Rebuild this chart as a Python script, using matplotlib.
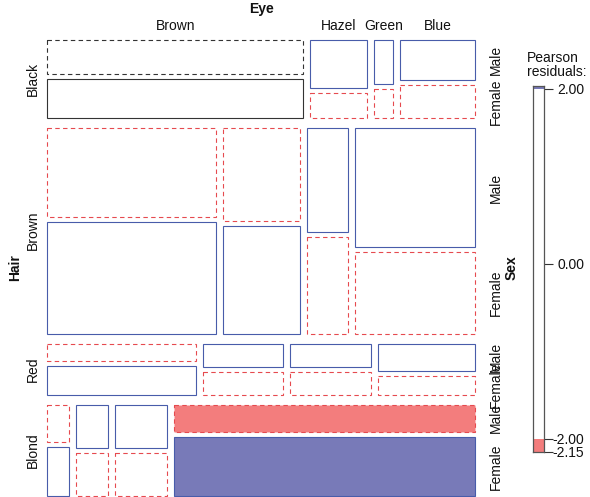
import matplotlib
matplotlib.use("Agg")
import matplotlib.pyplot as plt
from matplotlib.patches import Rectangle
import numpy as np

plt.rcParams["font.family"] = ["Liberation Sans", "DejaVu Sans"]

# Hair x Eye x Sex counts
hair_levels = ["Black", "Brown", "Red", "Blond"]
eye_levels = ["Brown", "Hazel", "Green", "Blue"]
sex_levels = ["Male", "Female"]

male_counts = [
    [32, 10, 3, 11],
    [53, 25, 15, 50],
    [10, 7, 7, 10],
    [3, 5, 8, 30],
]
female_counts = [
    [36, 5, 2, 9],
    [66, 29, 14, 34],
    [16, 7, 7, 7],
    [4, 5, 8, 64],
]

legend_ticks = [2.0, 0.0, -2.0]

# ---- residuals under the model [Hair Eye][Sex] ----
tab = np.stack([np.array(male_counts, float), np.array(female_counts, float)], axis=2)
N = tab.sum()
he = tab.sum(axis=2, keepdims=True)
sx = tab.sum(axis=(0, 1), keepdims=True)
expected = he * sx / N
resid = (tab - expected) / np.sqrt(expected)

BLUE_LINE = "#485CAA"
RED_LINE = "#E64A4F"
BLUE_FILL = "#787AB8"
RED_FILL = "#F37D7D"
NEUTRAL_LINE = "#333333"
TEXT = "#111111"


def cell_style(r):
    fill = "white"
    if r >= 2:
        fill = BLUE_FILL
    elif r <= -2:
        fill = RED_FILL
    if abs(r) < 0.01:
        edge = NEUTRAL_LINE
    else:
        edge = BLUE_LINE if r > 0 else RED_LINE
    ls = "-" if r >= 0 else (0, (4, 3))
    return fill, edge, ls


W, H = 590, 497
fig = plt.figure(figsize=(W / 100, H / 100), dpi=100)
ax = fig.add_axes([0, 0, 1, 1])
ax.set_xlim(0, W)
ax.set_ylim(H, 0)
ax.axis("off")

left, right, top, bottom = 47.0, 475.0, 40.0, 496.0
gap_hair, gap_eye, gap_sex = 10.0, 7.0, 5.0

hair_tot = tab.sum(axis=(1, 2))
avail_h = (bottom - top) - gap_hair * (len(hair_levels) - 1)
avail_w = (right - left) - gap_eye * (len(eye_levels) - 1)

y = top
for i, hair in enumerate(hair_levels):
    h_row = hair_tot[i] / N * avail_h
    x = left
    for j, eye in enumerate(eye_levels):
        n_ij = he[i, j, 0]
        w = n_ij / hair_tot[i] * avail_w
        avail_s = h_row - gap_sex
        ys = y
        sex_centers = []
        for k, sex in enumerate(sex_levels):
            hs = tab[i, j, k] / n_ij * avail_s
            fill, edge, ls = cell_style(resid[i, j, k])
            ax.add_patch(Rectangle((x, ys), w, hs, facecolor=fill, edgecolor=edge,
                                   linestyle=ls, linewidth=0.8))
            sex_centers.append(ys + hs / 2)
            ys += hs + gap_sex
        # eye labels above the first hair row
        if i == 0:
            ax.text(x + w / 2, 30, eye, ha="center", va="baseline",
                    fontsize=10, color=TEXT)
        # sex labels beside the last eye column
        if j == len(eye_levels) - 1:
            for k, sex in enumerate(sex_levels):
                ax.text(500, sex_centers[k], sex, rotation=90, rotation_mode="anchor",
                        ha="center", va="baseline", fontsize=10, color=TEXT)
        x += w + gap_eye
    ax.text(37, y + h_row / 2, hair, rotation=90, rotation_mode="anchor",
            ha="center", va="baseline", fontsize=10, color=TEXT)
    y += h_row + gap_hair

mid_x = (left + right) / 2
mid_y = (top + bottom) / 2
ax.text(mid_x, 13, "Eye", ha="center", va="baseline",
        fontsize=10, fontweight="bold", color=TEXT)
ax.text(19.5, mid_y, "Hair", rotation=90, rotation_mode="anchor",
        ha="center", va="baseline", fontsize=10, fontweight="bold", color=TEXT)
ax.text(516, mid_y, "Sex", rotation=90, rotation_mode="anchor",
        ha="center", va="baseline", fontsize=10, fontweight="bold", color=TEXT)

# ---- residual legend ----
rmin, rmax = resid.min(), resid.max()
ax.text(527, 62, "Pearson", ha="left", va="baseline", fontsize=10, color=TEXT)
ax.text(527, 75.5, "residuals:", ha="left", va="baseline", fontsize=10, color=TEXT)

bar_top_px, bar_bot_px = 86.4, 452.0
lax = fig.add_axes([533 / W, 1 - bar_bot_px / H, 11 / W, (bar_bot_px - bar_top_px) / H])
lax.set_xlim(0, 1)
lax.set_ylim(rmin, rmax)
lax.axhspan(rmin, -2, color=RED_FILL, lw=0)
lax.axhspan(2, rmax, color=BLUE_FILL, lw=0)
lax.set_xticks([])
for s in ["top", "bottom", "left", "right"]:
    lax.spines[s].set_color("#555555")
    lax.spines[s].set_linewidth(0.9)
ticks = legend_ticks + [rmin]
lax.yaxis.tick_right()
lax.set_yticks(ticks)
lax.set_yticklabels([f"{t:.2f}" for t in ticks])
lax.tick_params(axis="y", length=6.5, width=0.8, color="#333333",
                pad=22.5, labelsize=10, labelcolor=TEXT)
for lab in lax.get_yticklabels():
    lab.set_horizontalalignment("right")

fig.savefig("out.png", dpi=100)
